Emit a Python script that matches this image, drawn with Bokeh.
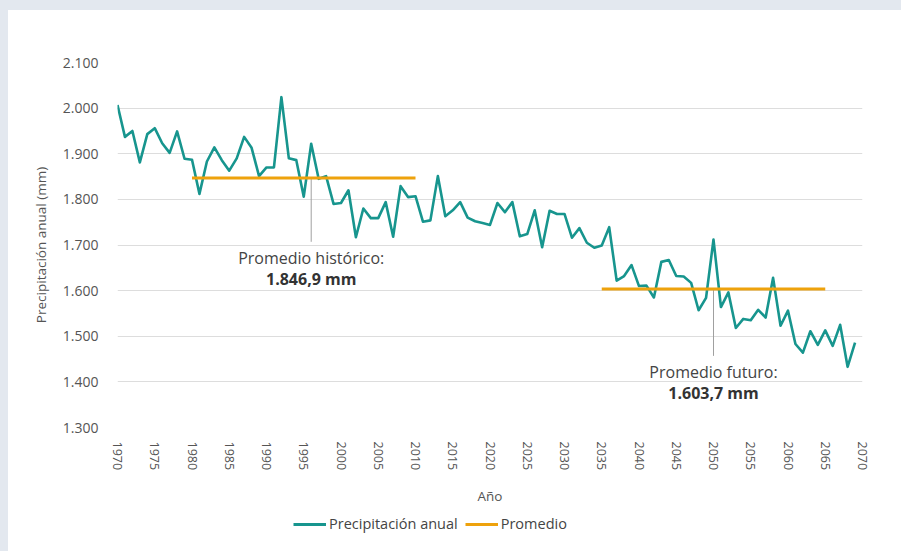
from bokeh.plotting import figure
from bokeh.layouts import column
from bokeh.models import FixedTicker, Legend, LegendItem, Label
from bokeh.embed import file_html
from bokeh.resources import INLINE

# ---------------- data ----------------
years = list(range(1970, 2070))
precip = [
    2007, 1937, 1950, 1881, 1943, 1956, 1923, 1902, 1949, 1889,
    1887, 1812, 1883, 1914, 1886, 1863, 1890, 1937, 1913, 1851,
    1870, 1870, 2024, 1890, 1886, 1806, 1922, 1845, 1851, 1790,
    1792, 1820, 1717, 1780, 1759, 1759, 1794, 1718, 1829, 1805,
    1807, 1751, 1754, 1851, 1763, 1776, 1794, 1760, 1752, 1748,
    1744, 1792, 1772, 1794, 1719, 1724, 1776, 1695, 1775, 1768,
    1768, 1716, 1737, 1705, 1694, 1699, 1739, 1622, 1632, 1656,
    1610, 1611, 1585, 1663, 1667, 1632, 1631, 1617, 1557, 1584,
    1712, 1564, 1596, 1518, 1538, 1535, 1558, 1541, 1628, 1523,
    1556, 1483, 1464, 1511, 1481, 1513, 1479, 1525, 1433, 1486,
]
avg_start = [1980, 2035]
avg_end = [2010, 2065]
avg_values = [1846.9, 1603.7]
avg_label_year = [1996, 2050]
avg_leader_end = [1707, 1457]
avg_titles = ["Promedio histórico:", "Promedio futuro:"]
avg_texts = ["1.846,9 mm", "1.603,7 mm"]

y_ticks = [1300, 1400, 1500, 1600, 1700, 1800, 1900, 2000, 2100]
y_tick_labels = ["1.300", "1.400", "1.500", "1.600", "1.700", "1.800", "1.900", "2.000", "2.100"]
x_ticks = list(range(1970, 2071, 5))

series_name = "Precipitación anual"
avg_name = "Promedio"

TEAL = "#17958e"
ORANGE = "#eea20c"
TEXT = "#555555"
FONT = "Open Sans"
PAGE_BG = "#e3e8ef"

# ---------------- main figure ----------------
p = figure(width=901, height=508, output_backend="svg", toolbar_location=None,
           x_range=(1970, 2070), y_range=(1300, 2100),
           min_border_left=117, min_border_top=62, min_border_right=39, min_border_bottom=80)
p.styles = {"background-color": "white", "box-shadow": f"inset 8px 10px 0 0 {PAGE_BG}"}
p.outline_line_color = None
p.background_fill_color = "white"
p.border_fill_alpha = 0

p.xgrid.grid_line_color = None
p.ygrid.grid_line_color = "#dddddd"
p.ygrid.grid_line_width = 1

p.yaxis.ticker = FixedTicker(ticks=y_ticks)
p.yaxis.major_label_overrides = {t: l for t, l in zip(y_ticks, y_tick_labels)}
p.xaxis.ticker = FixedTicker(ticks=x_ticks)
p.xaxis.major_label_orientation = "vertical"

for ax in (p.xaxis[0], p.yaxis[0]):
    ax.axis_line_color = None
    ax.major_tick_line_color = None
    ax.minor_tick_line_color = None
    ax.major_label_text_font = FONT
    ax.major_label_text_color = TEXT
    ax.axis_label_text_font = FONT
    ax.axis_label_text_color = TEXT
    ax.axis_label_text_font_size = "13.5px"
    ax.axis_label_text_font_style = "normal"

p.yaxis.major_label_text_font_size = "14px"
p.xaxis.major_label_text_font_size = "12.5px"
p.yaxis.axis_label = "Precipitación anual (mm)"
p.yaxis.major_label_standoff = 13
p.yaxis.axis_label_standoff = 10
p.xaxis.axis_label = "Año"
p.xaxis.major_label_standoff = 8
p.xaxis.axis_label_standoff = 14

# leader lines
p.segment(x0=avg_label_year, x1=avg_label_year, y0=avg_values, y1=avg_leader_end,
          line_color="#a0a0a0", line_width=1)

p.line(years, precip, line_color=TEAL, line_width=2.6, line_join="round")
p.segment(x0=avg_start, x1=avg_end, y0=avg_values, y1=avg_values,
          line_color=ORANGE, line_width=3)

for yr, yend, title, txt in zip(avg_label_year, avg_leader_end, avg_titles, avg_texts):
    p.add_layout(Label(x=yr, y=yend, text=title, text_align="center", text_baseline="top",
                       y_offset=-5, text_font=FONT, text_font_size="16px",
                       text_color="#444444"))
    p.add_layout(Label(x=yr, y=yend, text=txt, text_align="center", text_baseline="top",
                       y_offset=-26, text_font=FONT, text_font_size="16px",
                       text_font_style="bold", text_color="#333333"))

# ---------------- legend strip ----------------
pl = figure(width=901, height=43, output_backend="svg", toolbar_location=None,
            x_axis_location=None, y_axis_location=None, min_border=0,
            x_range=(0, 1), y_range=(0, 1))
pl.styles = {"background-color": "white", "box-shadow": f"inset 8px 0 0 0 {PAGE_BG}"}
pl.outline_line_color = None
pl.background_fill_alpha = 0
pl.border_fill_alpha = 0
pl.grid.grid_line_color = None

# the same series, drawn out of view of this strip, only to feed its legend
lg_line = pl.line(years, precip, line_color=TEAL, line_width=3)
lg_avg = pl.segment(x0=avg_start, x1=avg_end, y0=avg_values, y1=avg_values,
                    line_color=ORANGE, line_width=3)

legend = Legend(items=[LegendItem(label=series_name, renderers=[lg_line]),
                       LegendItem(label=avg_name, renderers=[lg_avg])],
                orientation="horizontal", location=(176, 18),
                border_line_color=None, background_fill_alpha=0,
                glyph_width=33, glyph_height=16, label_standoff=3, spacing=7,
                padding=0, margin=0,
                label_text_font=FONT, label_text_font_size="14.5px", label_text_color="#444444")
pl.add_layout(legend, "center")

layout = column(p, pl, spacing=0)
open("out.html", "w").write(file_html(layout, INLINE))
